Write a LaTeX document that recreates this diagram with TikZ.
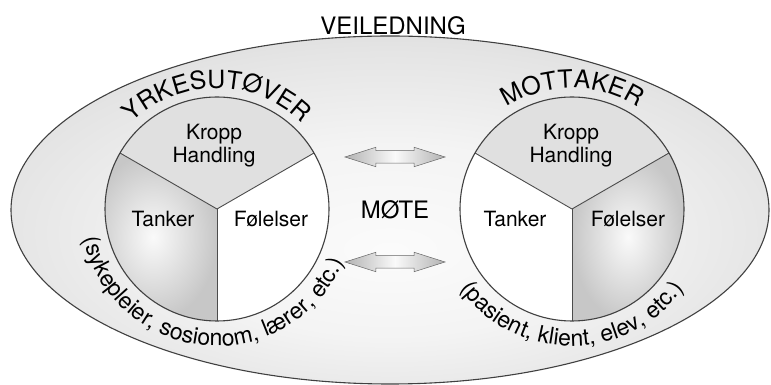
\documentclass[tikz,border=0pt]{standalone}
\usepackage{fontspec}
\setmainfont{TeX Gyre Heros}
\usetikzlibrary{shapes.arrows,decorations.text}

\newcommand{\hdrfont}{\fontsize{25}{27}\selectfont}
\newcommand{\subfont}{\fontsize{23}{25}\selectfont}

% soft grey field, light in the middle
\pgfdeclareradialshading{veilshade}{\pgfpoint{0bp}{-6bp}}{%
  color(0bp)=(gray!3); color(14bp)=(gray!9); color(26bp)=(gray!21);
  color(38bp)=(gray!37); color(50bp)=(gray!50)}

\tikzset{
  sectorlbl/.style={font=\fontsize{21}{23}\selectfont, align=center, inner sep=0pt},
  bigword/.style={font=\fontsize{24}{26}\selectfont, inner sep=0pt},
  rim/.style={draw=black!75, line width=1.1pt},
  divider/.style={draw=black!70, line width=0.9pt},
  softgray/.style={fill=gray!24},
  shadedsector/.style={inner color=gray!4, outer color=gray!44},
  dblarrow/.style={double arrow, double arrow head extend=3.5pt, double arrow tip angle=35,
    minimum height=100pt, inner sep=6pt, draw=black!60, line width=0.5pt,
    shade, left color=gray!60, right color=gray!60, middle color=gray!4}
}

\begin{document}
\begin{tikzpicture}[x=1pt,y=1pt]

  \useasboundingbox (0,0) rectangle (771,385);

  % outer ellipse
  \shade[shading=veilshade] (390,175) ellipse [x radius=379, y radius=174];
  \draw[rim] (390,175) ellipse [x radius=379, y radius=174];
  \node[bigword] (veiledning) at (393,359) {VEILEDNING};

  % centres of the two circles
  \coordinate (yc) at (217,176);
  \coordinate (mc) at (572,176);

  % left circle (yrkesutoever)
  \fill[softgray] (yc) -- ++(30:112) arc[start angle=30, end angle=150, radius=112] -- cycle;
  \shade[shadedsector] (yc) -- ++(150:112) arc[start angle=150, end angle=270, radius=112] -- cycle;
  \fill[white] (yc) -- ++(270:112) arc[start angle=270, end angle=390, radius=112] -- cycle;
  \draw[divider] (yc) -- ++(30:112);
  \draw[divider] (yc) -- ++(150:112);
  \draw[divider] (yc) -- ++(270:112);
  \draw[rim] (yc) circle (112);

  % right circle (mottaker)
  \fill[softgray] (mc) -- ++(30:112) arc[start angle=30, end angle=150, radius=112] -- cycle;
  \fill[white] (mc) -- ++(150:112) arc[start angle=150, end angle=270, radius=112] -- cycle;
  \shade[shadedsector] (mc) -- ++(270:112) arc[start angle=270, end angle=390, radius=112] -- cycle;
  \draw[divider] (mc) -- ++(30:112);
  \draw[divider] (mc) -- ++(150:112);
  \draw[divider] (mc) -- ++(270:112);
  \draw[rim] (mc) circle (112);

  % sector labels
  \node[sectorlbl] (ykropp)   at ([shift={(-3,63)}]yc)  {Kropp\\Handling};
  \node[sectorlbl] (ytanker)  at ([shift={(-54,-10)}]yc) {Tanker};
  \node[sectorlbl] (yfoelelser) at ([shift={(54,-10)}]yc) {Følelser};
  \node[sectorlbl] (mkropp)   at ([shift={(-1,63)}]mc)  {Kropp\\Handling};
  \node[sectorlbl] (mtanker)  at ([shift={(-57,-10)}]mc) {Tanker};
  \node[sectorlbl] (mfoelelser) at ([shift={(56,-10)}]mc) {Følelser};

  % curved headings
  \path[decorate, decoration={text along path, text align=center,
      text={|\hdrfont|YRKESUTØVER}}]
    ([shift={(150:121)}]yc) arc[start angle=150, end angle=30, radius=121];
  \path[decorate, decoration={text along path, text align=center,
      text={|\hdrfont|MOTTAKER}}]
    ([shift={(150:121)}]mc) arc[start angle=150, end angle=30, radius=121];

  % curved examples below
  \path[decorate, decoration={text along path, text align=center,
      text={|\subfont|(sykepleier, sosionom, lærer, etc.)}}]
    ([shift={(180:137)}]yc) arc[start angle=180, end angle=350, radius=137];
  \path[decorate, decoration={text along path, text align=center,
      text={|\subfont|(pasient, klient, elev, etc.)}}]
    ([shift={(190:137)}]mc) arc[start angle=190, end angle=350, radius=137];

  % meeting in the middle
  \node[dblarrow] (pilopp) at (395,228) {};
  \node[dblarrow] (pilned) at (395,123) {};
  \node[bigword] (moete) at (395,175) {MØTE};

\end{tikzpicture}
\end{document}
